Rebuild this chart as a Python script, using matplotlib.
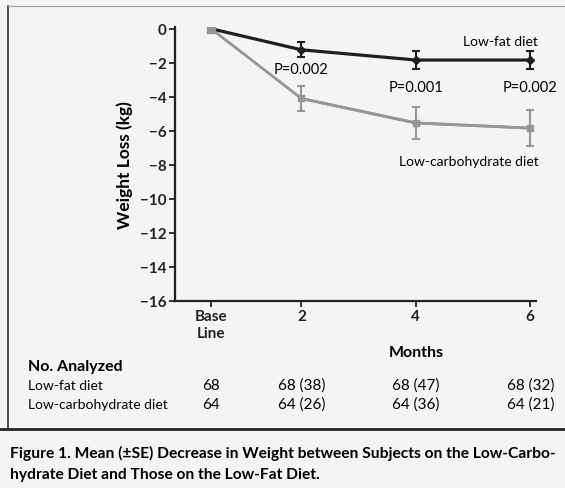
import numpy as np
import matplotlib.pyplot as plt
from matplotlib.lines import Line2D
from matplotlib.transforms import blended_transform_factory

plt.rcParams["font.family"] = ["Lato", "DejaVu Sans"]

# data
months = [0.42, 2, 4, 6]
tick_labels = ["Base\nLine", "2", "4", "6"]
low_fat = [0, -1.24, -1.84, -1.84]
low_fat_se = [0, 0.45, 0.53, 0.52]
low_carb = [0, -4.1, -5.54, -5.84]
low_carb_se = [0, 0.72, 0.95, 1.08]
p_values = ["P=0.002", "P=0.001", "P=0.002"]
n_low_fat = ["68", "68 (38)", "68 (47)", "68 (32)"]
n_low_carb = ["64", "64 (26)", "64 (36)", "64 (21)"]

bg = "#f4f4f2"
fig = plt.figure(figsize=(5.65, 4.89), dpi=100, facecolor=bg)
ax = fig.add_axes([175 / 565, 1 - 302 / 489, (536 - 175) / 565, (302 - 28) / 489])
ax.set_facecolor(bg)

ax.errorbar(months[1:], low_carb[1:], yerr=low_carb_se[1:], color="#969696",
            lw=2, capsize=3, capthick=1.5, elinewidth=1.5, zorder=2)
ax.plot(months, low_carb, color="#969696", lw=2, marker="s", ms=5, zorder=2)
ax.errorbar(months[1:], low_fat[1:], yerr=low_fat_se[1:], color="#1e1e1e",
            lw=2.3, capsize=3, capthick=1.5, elinewidth=1.5, fmt="none", zorder=3)
ax.plot(months, low_fat, color="#1e1e1e", lw=2.3, marker="D", ms=4, zorder=3)
ax.plot(months[0], 0, marker="s", ms=6, color="#969696", zorder=4)

ax.set_xlim(-0.21, 6.1)
ax.set_ylim(-16, 0.1)
ax.set_yticks(range(-16, 1, 2))
ax.set_yticklabels([str(v).replace("-", "\u2212") for v in range(-16, 1, 2)])
ax.set_xticks(months)
ax.set_xticklabels(tick_labels)
for s in ["top", "right"]:
    ax.spines[s].set_visible(False)
for s in ["left", "bottom"]:
    ax.spines[s].set_linewidth(1.6)
    ax.spines[s].set_color("#222222")
ax.tick_params(direction="out", length=4, width=1.3, labelsize=11, colors="#222222", pad=2)
for lab in ax.get_xticklabels() + ax.get_yticklabels():
    lab.set_fontweight("bold")
ax.set_ylabel("Weight Loss (kg)", fontsize=12.5, fontweight="bold", labelpad=5)
ax.text(4, -19.0, "Months", fontsize=11.5, fontweight="bold", ha="center", va="center")

ax.text(6.14, -0.72, "Low-fat diet", fontsize=10, ha="right", va="center")
ax.text(4.93, -7.77, "Low-carbohydrate diet", fontsize=10, ha="center", va="center")
ax.text(2.0, -2.37, p_values[0], fontsize=10.5, ha="center", va="center")
ax.text(4.0, -3.42, p_values[1], fontsize=10.5, ha="center", va="center")
ax.text(6.0, -3.42, p_values[2], fontsize=10.5, ha="center", va="center")

# table under the axis
trans = blended_transform_factory(ax.transData, fig.transFigure)
fig.text(28 / 565, 1 - 367 / 489, "No. Analyzed", fontsize=11.5, fontweight="bold", va="center")
fig.text(28 / 565, 1 - 386 / 489, "Low-fat diet", fontsize=10, va="center")
fig.text(28 / 565, 1 - 405 / 489, "Low-carbohydrate diet", fontsize=10, va="center")
for i, x in enumerate(months):
    ax.text(x, 1 - 386 / 489, n_low_fat[i], transform=trans, fontsize=11, ha="center", va="center")
    ax.text(x, 1 - 405 / 489, n_low_carb[i], transform=trans, fontsize=11, ha="center", va="center")

# page border lines
fig.add_artist(Line2D([8 / 565, 8 / 565], [1 - 7 / 489, 1 - 430 / 489], color="#333333", lw=1.2))
fig.add_artist(Line2D([8 / 565, 1], [1 - 7 / 489, 1 - 7 / 489], color="#999999", lw=0.8))
fig.add_artist(Line2D([0, 1], [1 - 430 / 489, 1 - 430 / 489], color="#222222", lw=2))

cap1 = fig.text(10 / 565, 1 - 453 / 489,
                "Figure 1. Mean (\u00b1SE) Decrease in Weight between Subjects on the Low-Carbo-",
                fontsize=11, fontweight="bold", va="center")
cap2 = fig.text(10 / 565, 1 - 475 / 489, "hydrate Diet and Those on the Low-Fat Diet.",
                fontsize=11, fontweight="bold", va="center")

# shrink caption so the first line fits the same width as the printed one
renderer = fig.canvas.get_renderer()
w = cap1.get_window_extent(renderer).width
size = 11 * 545 / w
cap1.set_fontsize(size)
cap2.set_fontsize(size)

fig.savefig("out.png", dpi=100, facecolor=bg)
